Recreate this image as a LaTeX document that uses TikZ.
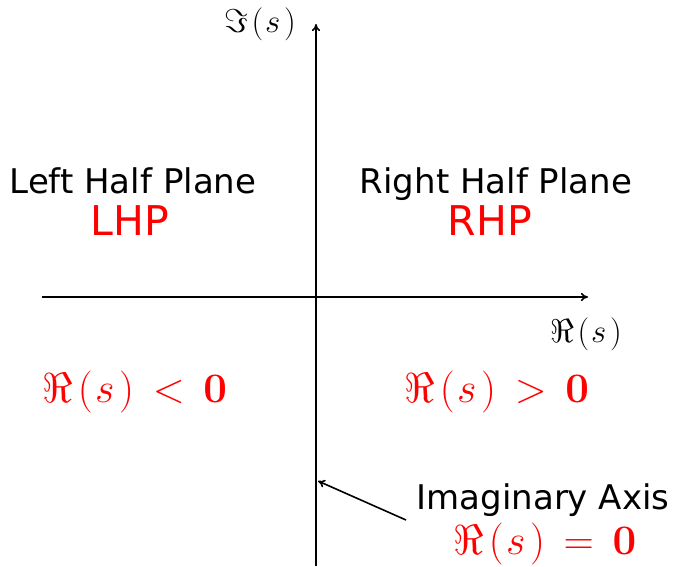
\documentclass[tikz,border=0pt]{standalone}
\usepackage{fix-cm}
\usepackage[no-math]{fontspec}
\setmainfont{DejaVu Sans}
\usetikzlibrary{arrows.meta}
\newcommand{\myRS}{\Re\mkern2mu(\mkern1mu s\mkern2mu)}
\newcommand{\myIS}{\Im\mkern2mu(\mkern1mu s\mkern2mu)}
\newcommand{\myrel}[1]{\mathrel{\mkern3mu#1\mkern3mu}}
\begin{document}
\begin{tikzpicture}[x=1pt,y=-1pt,
  axis/.style={line width=1.6pt,-{To[length=7pt,width=8pt]}},
  lbl/.style={font=\fontsize{34}{38}\selectfont,inner sep=0pt,anchor=base},
  acr/.style={font=\fontsize{41}{44}\selectfont,text=red,inner sep=0pt,anchor=base},
  mth/.style={font=\fontsize{33}{36}\selectfont,inner sep=0pt,anchor=base},
  rmth/.style={font=\fontsize{42}{46}\selectfont,text=red,inner sep=0pt,anchor=base}]
\useasboundingbox (0,0) rectangle (675,566);
\coordinate (xl) at (42,297);
\coordinate (xr) at (588,297);
\coordinate (yb) at (316,566);
\coordinate (yt) at (316,24);
\draw[axis] (xl) -- (xr);
\draw[axis] (yb) -- (yt);
\node[mth] (im) at (260,32) {$\myIS$};
\node[mth] (re) at (586,342) {$\myRS$};
\node[lbl] (lhp) at (133,193) {Left Half Plane};
\node[acr] (lhpa) at (130,235) {LHP};
\node[lbl] (rhp) at (496,193) {Right Half Plane};
\node[acr] (rhpa) at (490,235) {RHP};
\node[rmth] (neg) at (135,402) {$\myRS \myrel{<} \mathbf{0}$};
\node[rmth] (pos) at (497,402) {$\myRS \myrel{>} \mathbf{0}$};
\node[lbl] (ia) at (543,509) {Imaginary Axis};
\node[rmth] (zero) at (545,554) {$\myRS \myrel{=} \mathbf{0}$};
\coordinate (tail) at (406,520);
\coordinate (head) at (318,481);
\draw[line width=1.6pt,-{To[length=7pt,width=8pt]}] (tail) -- (head);
\end{tikzpicture}
\end{document}
